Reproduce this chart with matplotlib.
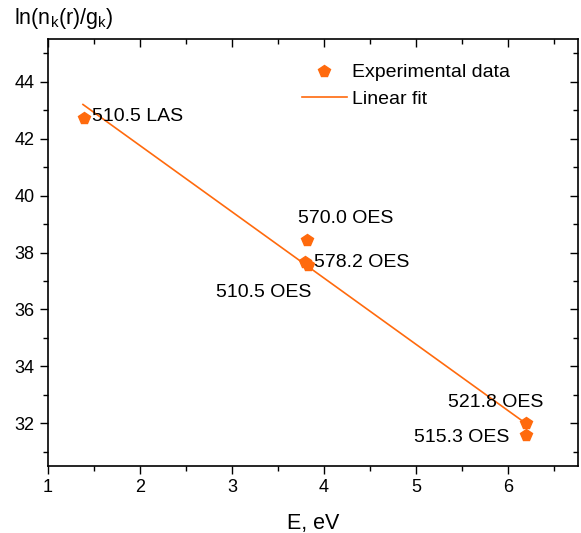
import numpy as np
import matplotlib.pyplot as plt
from matplotlib.ticker import MultipleLocator

plt.rcParams['font.family'] = ['Liberation Sans', 'DejaVu Sans']
plt.rcParams['mathtext.fontset'] = 'custom'
plt.rcParams['mathtext.rm'] = 'Liberation Sans'
plt.rcParams['mathtext.it'] = 'Liberation Sans'

# experimental points (energy in eV, ln(n_k/g_k))
labels = ["510.5 LAS", "570.0 OES", "578.2 OES", "510.5 OES", "521.8 OES", "515.3 OES"]
E = [1.39, 3.815, 3.83, 3.79, 6.196, 6.196]
lny = [42.73, 38.44, 37.55, 37.66, 32.0, 31.58]

# linear fit line
fit_E = [1.38, 6.17]
fit_y = [43.2, 32.05]

# label text anchors (data coordinates)
lab_x = [1.478, 3.717, 3.891, 2.826, 5.348, 4.978]
lab_y = [42.77, 39.18, 37.66, 36.61, 32.73, 31.5]

orange = "#ff6a0d"

fig = plt.figure(figsize=(5.81, 5.33), dpi=100)
ax = fig.add_axes([0.0826, 0.1257, 0.9122, 0.8011])

ax.plot(E, lny, linestyle="none", marker="p", markersize=8.5, color=orange,
        label="Experimental data", zorder=3)
ax.plot(fit_E, fit_y, color=orange, linewidth=1.2, label="Linear fit")

for t, x, y in zip(labels, lab_x, lab_y):
    ax.text(x, y, t, ha="left", va="center", fontsize=14)

ax.set_xlim(1, 6.76)
ax.set_ylim(30.5, 45.5)
ax.xaxis.set_major_locator(MultipleLocator(1))
ax.xaxis.set_minor_locator(MultipleLocator(0.5))
ax.yaxis.set_major_locator(MultipleLocator(2))
ax.yaxis.set_minor_locator(MultipleLocator(1))

ax.tick_params(which="both", direction="out", labelsize=13, width=1)
ax.tick_params(which="major", length=6)
ax.tick_params(which="minor", length=3.5)
ax.tick_params(which="both", top=True, right=True)
# top/right ticks point inward
for tk in ax.xaxis.get_major_ticks() + ax.xaxis.get_minor_ticks():
    tk.tick2line.set_marker(3)
for tk in ax.yaxis.get_major_ticks() + ax.yaxis.get_minor_ticks():
    tk.tick2line.set_marker(0)
for s in ax.spines.values():
    s.set_linewidth(1.2)

ax.set_xlabel("E, eV", fontsize=15.5, labelpad=12)
fig.text(0.024, 0.966, r"ln(n$_\mathregular{k}$(r)/g$_\mathregular{k}$)", fontsize=15.5,
         ha="left", va="center")

ax.legend(loc="upper left", bbox_to_anchor=(0.479, 0.942), frameon=False, fontsize=14,
          handlelength=2.3, handletextpad=0.3, borderaxespad=0, borderpad=0,
          labelspacing=0.45)

fig.savefig("out.png", dpi=100)
